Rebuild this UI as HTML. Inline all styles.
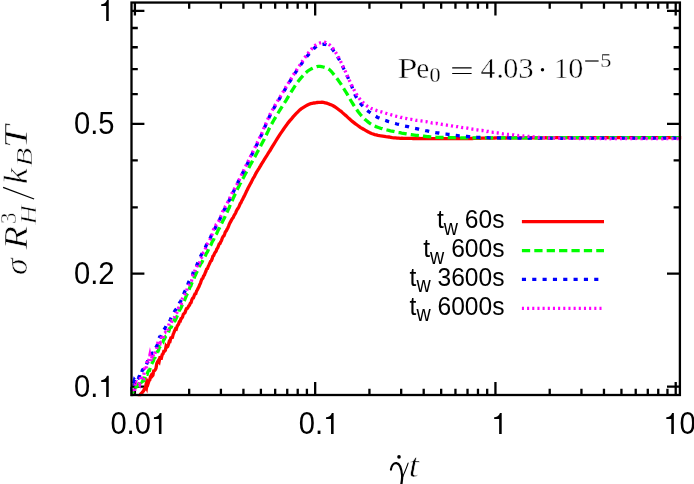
<!DOCTYPE html>
<html><head><meta charset="utf-8"><title>plot</title>
<style>html,body{margin:0;padding:0;background:#fff}svg{display:block;will-change:transform}</style></head>
<body>
<svg width="694" height="484" viewBox="0 0 694 484">
<rect width="694" height="484" fill="#fff"/>
<defs><clipPath id="c"><rect x="130.20" y="1.25" width="551.00" height="395.05"/></clipPath></defs>
<path d="M134.90,395.00v-12.90M134.90,2.55v12.90M189.17,395.00v-6.30M189.17,2.55v6.30M220.91,395.00v-6.30M220.91,2.55v6.30M243.43,395.00v-6.30M243.43,2.55v6.30M260.90,395.00v-6.30M260.90,2.55v6.30M275.18,395.00v-6.30M275.18,2.55v6.30M287.25,395.00v-6.30M287.25,2.55v6.30M297.70,395.00v-6.30M297.70,2.55v6.30M306.92,395.00v-6.30M306.92,2.55v6.30M315.17,395.00v-12.90M315.17,2.55v12.90M369.44,395.00v-6.30M369.44,2.55v6.30M401.18,395.00v-6.30M401.18,2.55v6.30M423.70,395.00v-6.30M423.70,2.55v6.30M441.17,395.00v-6.30M441.17,2.55v6.30M455.45,395.00v-6.30M455.45,2.55v6.30M467.52,395.00v-6.30M467.52,2.55v6.30M477.97,395.00v-6.30M477.97,2.55v6.30M487.19,395.00v-6.30M487.19,2.55v6.30M495.44,395.00v-12.90M495.44,2.55v12.90M549.71,395.00v-6.30M549.71,2.55v6.30M581.45,395.00v-6.30M581.45,2.55v6.30M603.97,395.00v-6.30M603.97,2.55v6.30M621.44,395.00v-6.30M621.44,2.55v6.30M635.72,395.00v-6.30M635.72,2.55v6.30M647.79,395.00v-6.30M647.79,2.55v6.30M658.24,395.00v-6.30M658.24,2.55v6.30M667.46,395.00v-6.30M667.46,2.55v6.30M675.71,395.00v-12.90M675.71,2.55v12.90M131.50,386.70h12.90M679.90,386.70h-12.90M131.50,273.54h12.90M679.90,273.54h-12.90M131.50,207.35h6.30M679.90,207.35h-6.30M131.50,160.39h6.30M679.90,160.39h-6.30M131.50,123.96h12.90M679.90,123.96h-12.90M131.50,94.19h6.30M679.90,94.19h-6.30M131.50,69.03h6.30M679.90,69.03h-6.30M131.50,47.23h6.30M679.90,47.23h-6.30M131.50,28.00h6.30M679.90,28.00h-6.30M131.50,10.80h12.90M679.90,10.80h-12.90" stroke="#000" stroke-width="2.30" fill="none"/>
<g clip-path="url(#c)" fill="none" stroke-width="3.3" stroke-linejoin="miter" stroke-miterlimit="6">
<path d="M136.5,404.1 L137.3,404.1 L138.1,398.5 L138.8,398.6 L139.6,396.2 L140.4,394.4 L141.2,393.5 L142.0,392.9 L142.7,391.7 L143.5,391.0 L144.3,389.1 L145.1,389.0 L145.9,385.3 L146.6,387.1 L147.4,381.8 L148.2,383.3 L149.0,380.7 L149.8,379.9 L150.5,376.5 L151.3,375.2 L152.1,376.2 L152.9,375.3 L153.7,370.9 L154.4,370.8 L155.2,369.9 L156.0,368.3 L156.8,363.5 L157.6,361.8 L158.3,360.7 L159.1,361.8 L159.9,357.5 L160.7,357.2 L161.5,357.6 L162.2,354.7 L163.0,353.9 L163.8,351.2 L164.6,351.1 L165.4,350.2 L166.1,346.1 L166.9,347.1 L167.7,346.5 L168.5,344.3 L169.3,341.4 L170.0,341.5 L170.8,338.0 L171.6,337.6 L172.4,337.4 L173.2,334.2 L173.9,332.7 L174.7,330.7 L175.5,328.9 L176.3,329.2 L177.1,326.4 L177.8,325.1 L178.6,324.1 L179.4,321.5 L180.2,321.3 L181.0,318.7 L181.7,318.3 L182.5,317.1 L183.3,314.3 L184.1,313.6 L184.9,312.9 L185.6,310.9 L186.4,308.7 L187.2,308.5 L188.0,307.4 L188.8,305.8 L189.5,305.3 L190.3,303.2 L191.1,302.5 L191.9,299.6 L192.7,298.2 L193.4,298.0 L194.2,295.7 L195.0,293.8 L195.8,293.6 L196.6,290.9 L197.3,290.0 L198.1,288.3 L198.9,286.8 L199.7,284.6 L200.5,283.1 L201.2,280.8 L202.0,278.9 L202.8,278.3 L203.6,275.9 L204.4,275.1 L205.1,273.0 L205.9,271.3 L206.7,268.9 L207.5,268.6 L208.3,266.3 L209.0,264.9 L209.8,263.1 L210.6,261.2 L211.4,260.6 L212.2,258.6 L212.9,256.2 L213.7,255.5 L214.5,253.5 L215.3,252.2 L216.1,251.2 L216.8,249.0 L217.6,248.1 L218.4,246.2 L219.2,244.0 L220.0,243.6 L220.7,241.8 L221.5,240.6 L222.3,238.1 L223.1,236.5 L223.9,235.9 L224.6,234.1 L225.4,231.8 L226.2,231.0 L227.0,229.4 L227.8,228.0 L228.5,226.3 L229.3,224.2 L230.1,222.6 L230.9,221.1 L231.7,219.6 L232.4,218.4 L233.2,217.5 L234.0,215.7 L234.8,214.3 L235.6,213.1 L236.3,211.1 L237.1,209.7 L237.9,208.5 L238.7,207.3 L239.5,205.5 L240.2,203.6 L241.0,202.6 L241.8,200.7 L242.6,199.5 L243.4,197.7 L244.1,196.4 L244.9,194.8 L245.7,193.1 L246.5,191.3 L247.3,189.7 L248.0,188.2 L248.8,186.7 L249.6,185.2 L250.4,183.7 L251.2,182.4 L251.9,180.9 L252.7,179.2 L253.5,177.8 L254.3,176.6 L255.1,175.1 L255.8,173.6 L256.6,172.2 L257.4,171.0 L258.2,169.5 L259.0,168.3 L259.7,167.1 L260.5,165.8 L261.3,164.4 L262.1,163.2 L262.9,162.0 L263.6,160.7 L264.4,159.4 L265.2,158.1 L266.0,156.9 L266.8,155.7 L267.5,154.5 L268.3,153.2 L269.1,151.9 L269.9,150.8 L270.7,149.4 L272.3,146.7 L273.9,144.1 L275.5,141.5 L277.1,138.9 L278.7,136.4 L280.3,133.9 L281.9,131.6 L283.5,129.3 L285.1,126.9 L286.7,124.8 L288.3,122.6 L289.9,120.6 L291.5,118.8 L293.1,116.9 L294.7,115.1 L296.3,113.4 L297.9,111.8 L299.5,110.2 L301.1,108.9 L302.7,107.9 L304.3,106.9 L305.9,105.9 L307.5,105.0 L309.1,104.2 L310.7,103.6 L312.3,103.3 L313.9,103.0 L315.5,102.8 L317.1,102.5 L318.7,102.4 L320.3,102.3 L321.9,102.2 L323.5,102.4 L325.1,102.8 L326.7,103.2 L328.3,103.8 L329.9,104.4 L331.5,104.9 L333.1,105.8 L334.7,106.7 L336.3,107.8 L337.9,109.0 L339.5,110.3 L341.1,111.4 L342.7,112.9 L344.3,114.3 L345.9,115.6 L347.5,117.1 L349.1,118.6 L350.7,120.0 L352.3,121.4 L353.9,122.6 L355.5,123.9 L357.1,125.0 L358.7,126.2 L360.3,127.3 L361.9,128.3 L363.5,129.2 L365.1,130.2 L366.7,131.1 L368.3,131.9 L369.9,132.8 L371.5,133.5 L373.1,134.0 L374.7,134.6 L376.3,134.9 L377.9,135.4 L379.5,135.6 L381.1,136.0 L382.7,136.2 L384.3,136.4 L385.9,136.7 L387.5,136.9 L389.1,137.0 L390.7,137.3 L392.3,137.6 L393.9,137.8 L395.5,137.8 L397.1,138.1 L398.7,138.1 L400.3,138.3 L401.9,138.2 L403.5,138.3 L405.1,138.3 L406.7,138.4 L408.3,138.3 L409.9,138.4 L411.5,138.4 L413.1,138.5 L414.7,138.5 L416.3,138.5 L417.9,138.5 L419.5,138.5 L421.1,138.6 L422.7,138.5 L424.3,138.6 L425.9,138.6 L427.5,138.6 L429.1,138.6 L430.7,138.6 L432.3,138.6 L433.9,138.7 L435.5,138.7 L437.1,138.6 L438.7,138.7 L440.3,138.7 L441.9,138.7 L443.5,138.7 L445.1,138.7 L446.7,138.7 L448.3,138.6 L449.9,138.6 L451.5,138.7 L453.1,138.7 L454.7,138.7 L456.3,138.6 L457.9,138.7 L459.5,138.6 L461.1,138.6 L462.7,138.6 L464.3,138.6 L465.9,138.5 L467.5,138.5 L469.1,138.5 L470.7,138.4 L472.3,138.5 L473.9,138.4 L475.5,138.4 L477.1,138.4 L478.7,138.3 L480.3,138.3 L481.9,138.2 L483.5,138.2 L485.1,138.1 L486.7,138.1 L488.3,138.1 L489.9,138.1 L491.5,138.1 L493.1,138.1 L494.7,138.0 L496.3,137.9 L497.9,137.9 L499.5,138.0 L501.1,138.0 L502.7,137.9 L504.3,137.9 L505.9,138.0 L507.5,137.9 L509.1,137.9 L510.7,137.8 L512.3,137.8 L513.9,137.9 L515.5,137.8 L517.1,137.8 L518.7,137.9 L520.3,137.8 L521.9,137.9 L523.5,137.8 L525.1,137.9 L526.7,137.8 L528.3,137.8 L529.9,137.8 L531.5,137.7 L533.1,137.8 L534.7,137.8 L536.3,137.8 L537.9,137.8 L539.5,137.8 L541.1,137.8 L542.7,137.8 L544.3,137.8 L545.9,137.7 L547.5,137.8 L549.1,137.8 L550.7,137.7 L552.3,137.8 L553.9,137.6 L555.5,137.7 L557.1,137.7 L558.7,137.7 L560.3,137.7 L561.9,137.7 L563.5,137.7 L565.1,137.7 L566.7,137.7 L568.3,137.7 L569.9,137.8 L571.5,137.7 L573.1,137.6 L574.7,137.8 L576.3,137.7 L577.9,137.8 L579.5,137.7 L581.1,137.8 L582.7,137.7 L584.3,137.7 L585.9,137.7 L587.5,137.7 L589.1,137.7 L590.7,137.7 L592.3,137.8 L593.9,137.7 L595.5,137.7 L597.1,137.8 L598.7,137.7 L600.3,137.7 L601.9,137.6 L603.5,137.7 L605.1,137.7 L606.7,137.7 L608.3,137.6 L609.9,137.6 L611.5,137.6 L613.1,137.7 L614.7,137.6 L616.3,137.6 L617.9,137.7 L619.5,137.6 L621.1,137.7 L622.7,137.7 L624.3,137.6 L625.9,137.7 L627.5,137.7 L629.1,137.7 L630.7,137.7 L632.3,137.7 L633.9,137.7 L635.5,137.8 L637.1,137.7 L638.7,137.6 L640.3,137.7 L641.9,137.7 L643.5,137.7 L645.1,137.6 L646.7,137.6 L648.3,137.6 L649.9,137.7 L651.5,137.6 L653.1,137.7 L654.7,137.7 L656.3,137.7 L657.9,137.7 L659.5,137.7 L661.1,137.7 L662.7,137.7 L664.3,137.7 L665.9,137.7 L667.5,137.6 L669.1,137.6 L670.7,137.6 L672.3,137.6 L673.9,137.6 L675.5,137.6 L677.1,137.6 L678.7,137.7 L680.3,137.6 L681.9,137.7" stroke="#ff0000"/>
<path d="M130.0,396.6 L130.8,393.6 L131.6,394.5 L132.3,392.8 L133.1,391.5 L133.9,390.0 L134.7,388.3 L135.5,388.8 L136.2,386.4 L137.0,385.3 L137.8,385.6 L138.6,384.4 L139.4,382.0 L140.1,382.6 L140.9,380.6 L141.7,382.1 L142.5,381.5 L143.3,379.5 L144.0,379.9 L144.8,376.3 L145.6,376.9 L146.4,374.3 L147.2,374.3 L147.9,371.8 L148.7,370.5 L149.5,370.4 L150.3,367.5 L151.1,365.3 L151.8,363.8 L152.6,362.3 L153.4,360.8 L154.2,358.1 L155.0,357.5 L155.7,355.2 L156.5,353.6 L157.3,351.6 L158.1,351.2 L158.9,349.1 L159.6,346.5 L160.4,346.5 L161.2,345.8 L162.0,343.2 L162.8,342.8 L163.5,340.1 L164.3,339.3 L165.1,337.5 L165.9,336.2 L166.7,335.6 L167.4,333.6 L168.2,333.2 L169.0,330.8 L169.8,328.3 L170.6,327.6 L171.3,327.2 L172.1,324.8 L172.9,322.6 L173.7,321.6 L174.5,319.8 L175.2,320.3 L176.0,318.7 L176.8,316.9 L177.6,315.0 L178.4,313.7 L179.1,311.0 L179.9,309.7 L180.7,308.5 L181.5,306.6 L182.3,304.4 L183.0,304.4 L183.8,301.7 L184.6,300.1 L185.4,298.1 L186.2,296.2 L186.9,294.6 L187.7,293.5 L188.5,291.5 L189.3,289.1 L190.1,286.7 L190.8,286.1 L191.6,283.5 L192.4,282.1 L193.2,279.5 L194.0,278.7 L194.7,276.5 L195.5,275.0 L196.3,273.2 L197.1,271.5 L197.9,270.1 L198.6,269.1 L199.4,266.4 L200.2,265.1 L201.0,263.3 L201.8,262.6 L202.5,261.0 L203.3,259.0 L204.1,257.8 L204.9,256.6 L205.7,255.1 L206.4,253.1 L207.2,252.3 L208.0,250.7 L208.8,248.5 L209.6,247.7 L210.3,246.0 L211.1,244.5 L211.9,242.7 L212.7,240.8 L213.5,239.9 L214.2,238.1 L215.0,236.3 L215.8,234.7 L216.6,233.7 L217.4,231.8 L218.1,230.3 L218.9,228.9 L219.7,227.5 L220.5,225.8 L221.3,223.9 L222.0,222.7 L222.8,221.1 L223.6,219.5 L224.4,218.1 L225.2,216.2 L225.9,214.5 L226.7,212.8 L227.5,211.2 L228.3,209.3 L229.1,208.0 L229.8,206.0 L230.6,204.2 L231.4,202.4 L232.2,200.7 L233.0,198.9 L233.7,197.2 L234.5,195.5 L235.3,193.8 L236.1,192.3 L236.9,190.7 L237.6,188.6 L238.4,187.1 L239.2,185.7 L240.0,183.9 L240.8,182.7 L241.5,180.9 L242.3,179.7 L243.1,178.2 L243.9,176.8 L244.7,175.1 L245.4,173.8 L246.2,172.5 L247.0,170.9 L247.8,169.5 L248.6,168.2 L249.3,166.9 L250.1,165.3 L250.9,163.9 L251.7,162.4 L252.5,161.1 L253.2,159.7 L254.0,158.2 L254.8,156.9 L255.6,155.4 L256.4,154.0 L257.1,152.5 L257.9,151.1 L258.7,149.7 L259.5,148.2 L260.3,146.7 L261.0,145.3 L261.8,143.8 L262.6,142.3 L263.4,140.8 L264.2,139.3 L264.9,137.7 L265.7,136.2 L266.5,134.5 L267.3,132.8 L268.1,131.1 L268.8,129.4 L269.6,127.9 L270.4,126.3 L272.0,123.4 L273.6,120.5 L275.2,117.8 L276.8,115.1 L278.4,112.5 L280.0,109.9 L281.6,107.4 L283.2,104.8 L284.8,102.3 L286.4,99.8 L288.0,97.1 L289.6,94.5 L291.2,91.9 L292.8,89.3 L294.4,86.8 L296.0,84.4 L297.6,82.2 L299.2,80.1 L300.8,78.2 L302.4,76.4 L304.0,74.6 L305.6,72.9 L307.2,71.5 L308.8,70.3 L310.4,69.4 L312.0,68.5 L313.6,67.7 L315.2,67.0 L316.8,66.5 L318.4,66.3 L320.0,66.4 L321.6,66.6 L323.2,67.0 L324.8,67.5 L326.4,68.1 L328.0,68.7 L329.6,69.7 L331.2,71.3 L332.8,73.2 L334.4,75.2 L336.0,77.2 L337.6,79.3 L339.2,81.6 L340.8,83.9 L342.4,86.4 L344.0,89.0 L345.6,91.5 L347.2,94.2 L348.8,97.0 L350.4,99.8 L352.0,102.5 L353.6,105.0 L355.2,107.4 L356.8,109.7 L358.4,111.9 L360.0,114.0 L361.6,115.9 L363.2,117.6 L364.8,119.2 L366.4,120.6 L368.0,121.9 L369.6,123.2 L371.2,124.2 L372.8,125.0 L374.4,125.9 L376.0,126.6 L377.6,127.2 L379.2,127.8 L380.8,128.3 L382.4,128.7 L384.0,129.3 L385.6,129.6 L387.2,130.0 L388.8,130.4 L390.4,130.8 L392.0,131.1 L393.6,131.4 L395.2,131.8 L396.8,132.1 L398.4,132.5 L400.0,132.7 L401.6,133.1 L403.2,133.3 L404.8,133.6 L406.4,133.9 L408.0,134.2 L409.6,134.5 L411.2,134.7 L412.8,134.9 L414.4,135.1 L416.0,135.4 L417.6,135.5 L419.2,135.7 L420.8,135.9 L422.4,136.1 L424.0,136.2 L425.6,136.4 L427.2,136.6 L428.8,136.7 L430.4,136.8 L432.0,136.9 L433.6,137.1 L435.2,137.2 L436.8,137.3 L438.4,137.3 L440.0,137.3 L441.6,137.5 L443.2,137.5 L444.8,137.5 L446.4,137.6 L448.0,137.7 L449.6,137.7 L451.2,137.7 L452.8,137.7 L454.4,137.7 L456.0,137.8 L457.6,137.8 L459.2,137.8 L460.8,137.9 L462.4,137.8 L464.0,137.9 L465.6,137.9 L467.2,137.9 L468.8,138.0 L470.4,137.9 L472.0,137.9 L473.6,137.9 L475.2,137.9 L476.8,137.9 L478.4,137.9 L480.0,137.9 L481.6,137.9 L483.2,137.9 L484.8,137.9 L486.4,137.9 L488.0,137.8 L489.6,137.9 L491.2,137.9 L492.8,137.9 L494.4,137.8 L496.0,137.8 L497.6,137.9 L499.2,137.9 L500.8,137.9 L502.4,137.8 L504.0,137.8 L505.6,137.8 L507.2,137.8 L508.8,137.8 L510.4,137.8 L512.0,137.8 L513.6,137.8 L515.2,137.8 L516.8,137.8 L518.4,137.9 L520.0,137.8 L521.6,137.8 L523.2,137.8 L524.8,137.8 L526.4,137.8 L528.0,137.7 L529.6,137.8 L531.2,137.7 L532.8,137.8 L534.4,137.8 L536.0,137.8 L537.6,137.8 L539.2,137.8 L540.8,137.8 L542.4,137.8 L544.0,137.7 L545.6,137.8 L547.2,137.8 L548.8,137.8 L550.4,137.8 L552.0,137.7 L553.6,137.7 L555.2,137.8 L556.8,137.7 L558.4,137.7 L560.0,137.7 L561.6,137.7 L563.2,137.7 L564.8,137.7 L566.4,137.7 L568.0,137.6 L569.6,137.7 L571.2,137.7 L572.8,137.7 L574.4,137.7 L576.0,137.6 L577.6,137.7 L579.2,137.7 L580.8,137.7 L582.4,137.7 L584.0,137.6 L585.6,137.7 L587.2,137.7 L588.8,137.7 L590.4,137.7 L592.0,137.6 L593.6,137.7 L595.2,137.7 L596.8,137.6 L598.4,137.6 L600.0,137.7 L601.6,137.6 L603.2,137.6 L604.8,137.7 L606.4,137.6 L608.0,137.7 L609.6,137.7 L611.2,137.6 L612.8,137.6 L614.4,137.7 L616.0,137.7 L617.6,137.6 L619.2,137.6 L620.8,137.7 L622.4,137.7 L624.0,137.7 L625.6,137.7 L627.2,137.7 L628.8,137.7 L630.4,137.7 L632.0,137.8 L633.6,137.8 L635.2,137.7 L636.8,137.7 L638.4,137.6 L640.0,137.7 L641.6,137.7 L643.2,137.7 L644.8,137.7 L646.4,137.7 L648.0,137.7 L649.6,137.7 L651.2,137.7 L652.8,137.7 L654.4,137.7 L656.0,137.7 L657.6,137.7 L659.2,137.7 L660.8,137.7 L662.4,137.6 L664.0,137.7 L665.6,137.7 L667.2,137.6 L668.8,137.7 L670.4,137.7 L672.0,137.7 L673.6,137.7 L675.2,137.7 L676.8,137.7 L678.4,137.7 L680.0,137.8 L681.6,137.7" stroke="#00ff00" stroke-dasharray="8.26 4.13"/>
<path d="M124.5,396.5 L125.5,396.2 L126.5,392.1 L127.5,392.2 L128.5,393.2 L129.5,391.9 L130.5,385.7 L131.5,384.9 L132.5,382.6 L133.5,383.5 L134.5,379.7 L135.5,380.8 L136.5,380.4 L137.5,376.9 L138.5,377.7 L139.5,375.8 L140.5,371.4 L141.5,372.8 L142.5,369.9 L143.5,369.2 L144.5,367.0 L145.5,367.5 L146.5,364.6 L147.5,361.6 L148.5,361.6 L149.5,360.8 L150.5,356.7 L151.5,354.4 L152.5,353.1 L153.5,353.3 L154.5,351.3 L155.5,347.9 L156.5,346.6 L157.5,344.3 L158.5,340.3 L159.5,337.2 L160.5,337.3 L161.5,335.0 L162.5,332.3 L163.5,330.0 L164.5,328.9 L165.5,327.3 L166.5,324.9 L167.5,323.3 L168.5,322.2 L169.5,321.8 L170.5,319.3 L171.5,316.7 L172.5,315.0 L173.5,313.9 L174.5,311.5 L175.5,309.8 L176.5,308.9 L177.5,305.9 L178.5,305.1 L179.5,302.8 L180.5,301.6 L181.5,299.6 L182.5,297.2 L183.5,294.9 L184.5,291.9 L185.5,290.3 L186.5,287.2 L187.5,285.4 L188.5,282.5 L189.5,280.5 L190.5,277.5 L191.5,275.7 L192.5,275.0 L193.5,271.4 L194.5,270.1 L195.5,267.9 L196.5,265.9 L197.5,263.4 L198.5,261.5 L199.5,258.4 L200.5,256.4 L201.5,254.5 L202.5,252.4 L203.5,250.3 L204.5,248.4 L205.5,247.1 L206.5,244.6 L207.5,243.7 L208.5,241.4 L209.5,239.2 L210.5,237.5 L211.5,234.9 L212.5,233.8 L213.5,231.7 L214.5,229.5 L215.5,227.3 L216.5,225.7 L217.5,223.7 L218.5,221.6 L219.5,219.9 L220.5,217.6 L221.5,215.4 L222.5,213.6 L223.5,211.2 L224.5,209.2 L225.5,207.8 L226.5,205.8 L227.5,204.0 L228.5,201.9 L229.5,199.6 L230.5,197.1 L231.5,195.5 L232.5,193.9 L233.5,191.7 L234.5,189.4 L235.5,187.4 L236.5,185.2 L237.5,183.1 L238.5,181.1 L239.5,179.7 L240.5,177.5 L241.5,175.2 L242.5,173.4 L243.5,171.3 L244.5,169.4 L245.5,167.7 L246.5,165.6 L247.5,163.5 L248.5,161.4 L249.5,159.6 L250.5,157.7 L251.5,155.4 L252.5,153.3 L253.5,151.3 L254.5,149.3 L255.5,147.5 L256.5,145.3 L257.5,143.3 L258.5,141.1 L259.5,139.0 L260.5,137.0 L261.5,134.8 L262.5,132.5 L263.5,130.1 L264.5,127.9 L265.5,125.4 L266.5,123.0 L267.5,120.6 L268.5,118.5 L269.5,116.5 L270.5,114.5 L272.1,111.4 L273.7,108.5 L275.3,105.6 L276.9,102.9 L278.5,100.3 L280.1,97.7 L281.7,95.0 L283.3,92.4 L284.9,89.7 L286.5,87.1 L288.1,84.4 L289.7,81.7 L291.3,79.1 L292.9,76.6 L294.5,74.1 L296.1,71.6 L297.7,69.2 L299.3,66.9 L300.9,64.6 L302.5,62.4 L304.1,60.1 L305.7,58.0 L307.3,56.0 L308.9,54.1 L310.5,52.3 L312.1,50.5 L313.7,48.7 L315.3,47.3 L316.9,46.1 L318.5,45.5 L320.1,44.9 L321.7,44.4 L323.3,44.2 L324.9,44.3 L326.5,44.8 L328.1,45.6 L329.7,46.6 L331.3,47.9 L332.9,49.8 L334.5,52.0 L336.1,54.4 L337.7,57.0 L339.3,59.8 L340.9,62.9 L342.5,66.1 L344.1,69.5 L345.7,72.7 L347.3,76.2 L348.9,79.6 L350.5,83.3 L352.1,87.1 L353.7,91.6 L355.3,95.4 L356.9,98.3 L358.5,100.7 L360.1,103.0 L361.7,104.9 L363.3,106.6 L364.9,108.3 L366.5,109.7 L368.1,111.1 L369.7,112.3 L371.3,113.5 L372.9,114.7 L374.5,115.6 L376.1,116.5 L377.7,117.4 L379.3,118.1 L380.9,118.8 L382.5,119.4 L384.1,120.0 L385.7,120.5 L387.3,121.1 L388.9,121.7 L390.5,122.1 L392.1,122.7 L393.7,123.1 L395.3,123.5 L396.9,124.0 L398.5,124.3 L400.1,124.7 L401.7,125.1 L403.3,125.5 L404.9,126.0 L406.5,126.3 L408.1,126.7 L409.7,127.2 L411.3,127.4 L412.9,127.8 L414.5,128.3 L416.1,128.6 L417.7,128.9 L419.3,129.4 L420.9,129.7 L422.5,130.0 L424.1,130.3 L425.7,130.7 L427.3,130.9 L428.9,131.3 L430.5,131.7 L432.1,131.8 L433.7,132.2 L435.3,132.6 L436.9,132.8 L438.5,133.0 L440.1,133.3 L441.7,133.5 L443.3,133.7 L444.9,134.0 L446.5,134.1 L448.1,134.4 L449.7,134.5 L451.3,134.9 L452.9,135.0 L454.5,135.2 L456.1,135.4 L457.7,135.6 L459.3,135.8 L460.9,135.8 L462.5,136.1 L464.1,136.3 L465.7,136.5 L467.3,136.5 L468.9,136.6 L470.5,136.9 L472.1,136.9 L473.7,137.0 L475.3,137.2 L476.9,137.3 L478.5,137.4 L480.1,137.5 L481.7,137.6 L483.3,137.6 L484.9,137.6 L486.5,137.7 L488.1,137.7 L489.7,137.8 L491.3,137.8 L492.9,137.7 L494.5,137.9 L496.1,137.9 L497.7,137.9 L499.3,137.9 L500.9,137.9 L502.5,138.0 L504.1,137.9 L505.7,138.0 L507.3,137.9 L508.9,137.9 L510.5,138.0 L512.1,138.0 L513.7,138.1 L515.3,138.1 L516.9,138.1 L518.5,138.0 L520.1,138.1 L521.7,138.1 L523.3,138.1 L524.9,138.1 L526.5,138.1 L528.1,138.2 L529.7,138.1 L531.3,138.2 L532.9,138.2 L534.5,138.1 L536.1,138.1 L537.7,138.1 L539.3,138.1 L540.9,138.1 L542.5,138.1 L544.1,138.1 L545.7,138.2 L547.3,138.2 L548.9,138.2 L550.5,138.2 L552.1,138.3 L553.7,138.2 L555.3,138.2 L556.9,138.2 L558.5,138.2 L560.1,138.2 L561.7,138.3 L563.3,138.3 L564.9,138.1 L566.5,138.2 L568.1,138.3 L569.7,138.1 L571.3,138.1 L572.9,138.2 L574.5,138.0 L576.1,138.1 L577.7,138.1 L579.3,138.1 L580.9,138.1 L582.5,138.1 L584.1,138.0 L585.7,138.1 L587.3,138.0 L588.9,138.0 L590.5,138.0 L592.1,138.1 L593.7,138.1 L595.3,138.0 L596.9,137.9 L598.5,138.0 L600.1,138.0 L601.7,138.1 L603.3,138.0 L604.9,138.0 L606.5,138.0 L608.1,138.0 L609.7,138.0 L611.3,138.2 L612.9,138.1 L614.5,138.1 L616.1,138.1 L617.7,138.2 L619.3,138.1 L620.9,138.2 L622.5,138.1 L624.1,138.1 L625.7,138.1 L627.3,138.1 L628.9,138.0 L630.5,138.2 L632.1,138.1 L633.7,138.1 L635.3,138.1 L636.9,138.2 L638.5,138.1 L640.1,138.1 L641.7,138.1 L643.3,138.1 L644.9,138.0 L646.5,138.1 L648.1,138.0 L649.7,138.1 L651.3,138.0 L652.9,138.0 L654.5,138.1 L656.1,138.0 L657.7,138.1 L659.3,138.0 L660.9,138.1 L662.5,138.1 L664.1,138.1 L665.7,138.0 L667.3,138.1 L668.9,138.1 L670.5,138.0 L672.1,138.1 L673.7,138.0 L675.3,138.1 L676.9,138.1 L678.5,138.1 L680.1,138.1 L681.7,138.1" stroke="#0000ff" stroke-dasharray="4.13 6.2"/>
<path d="M126.5,408.7 L127.8,401.1 L129.1,404.9 L130.4,399.0 L131.7,396.3 L133.0,387.6 L134.3,395.0 L135.6,380.7 L136.9,381.9 L138.2,382.2 L139.5,384.3 L140.8,375.4 L142.1,380.5 L143.4,379.1 L144.7,367.3 L146.0,369.0 L147.3,359.9 L148.6,361.0 L149.9,355.0 L151.2,361.4 L152.5,354.1 L153.8,356.6 L155.1,352.9 L156.4,351.4 L157.7,343.2 L159.0,340.2 L160.3,342.3 L161.6,336.5 L162.9,338.6 L164.2,333.8 L165.5,332.4 L166.8,333.1 L168.1,327.8 L169.4,322.6 L170.7,320.8 L172.0,321.2 L173.3,318.7 L174.6,317.1 L175.9,313.2 L177.2,312.2 L178.5,308.0 L179.8,306.7 L181.1,304.7 L182.4,298.6 L183.7,296.7 L185.0,294.4 L186.3,292.2 L187.6,287.0 L188.9,285.4 L190.2,282.6 L191.5,280.8 L192.8,275.4 L194.1,273.6 L195.4,268.9 L196.7,267.2 L198.0,263.2 L199.3,263.1 L200.6,258.5 L201.9,257.2 L203.2,253.0 L204.5,251.8 L205.8,247.4 L207.1,244.3 L208.4,242.2 L209.7,240.1 L211.0,237.3 L212.3,233.7 L213.6,229.4 L214.9,228.1 L216.2,224.5 L217.5,223.1 L218.8,221.0 L220.1,217.5 L221.4,215.2 L222.7,211.4 L224.0,210.0 L225.3,206.5 L226.6,205.0 L227.9,201.9 L229.2,200.1 L230.5,196.0 L231.8,193.5 L233.1,192.0 L234.4,189.0 L235.7,186.5 L237.0,184.3 L238.3,181.1 L239.6,178.9 L240.9,175.9 L242.2,173.8 L243.5,170.9 L244.8,167.7 L246.1,165.4 L247.4,163.2 L248.7,160.1 L250.0,157.3 L251.3,154.9 L252.6,152.2 L253.9,149.7 L255.2,146.9 L256.5,144.2 L257.8,141.5 L259.1,138.8 L260.4,136.2 L261.7,133.4 L263.0,130.4 L264.3,127.1 L265.6,124.2 L266.9,121.1 L268.2,118.3 L269.5,115.4 L270.8,112.8 L272.4,110.0 L274.0,107.0 L275.6,104.4 L277.2,101.7 L278.8,98.9 L280.4,96.4 L282.0,93.6 L283.6,91.1 L285.2,88.3 L286.8,85.7 L288.4,83.1 L290.0,80.5 L291.6,77.9 L293.2,75.2 L294.8,72.7 L296.4,70.3 L298.0,67.7 L299.6,65.5 L301.2,63.0 L302.8,60.6 L304.4,58.2 L306.0,55.9 L307.6,53.8 L309.2,51.8 L310.8,49.9 L312.4,48.1 L314.0,46.5 L315.6,45.0 L317.2,44.0 L318.8,43.4 L320.4,42.8 L322.0,42.4 L323.6,42.2 L325.2,42.4 L326.8,43.1 L328.4,44.1 L330.0,45.3 L331.6,46.9 L333.2,48.7 L334.8,51.0 L336.4,53.6 L338.0,56.2 L339.6,59.1 L341.2,62.6 L342.8,66.0 L344.4,69.3 L346.0,72.8 L347.6,76.4 L349.2,80.0 L350.8,83.5 L352.4,86.6 L354.0,89.7 L355.6,92.8 L357.2,95.4 L358.8,97.7 L360.4,99.9 L362.0,101.5 L363.6,103.0 L365.2,104.5 L366.8,105.8 L368.4,106.8 L370.0,107.7 L371.6,108.6 L373.2,109.1 L374.8,109.8 L376.4,110.4 L378.0,110.9 L379.6,111.4 L381.2,111.8 L382.8,112.3 L384.4,112.7 L386.0,113.3 L387.6,113.8 L389.2,114.2 L390.8,114.7 L392.4,115.1 L394.0,115.7 L395.6,116.1 L397.2,116.5 L398.8,116.8 L400.4,117.4 L402.0,117.5 L403.6,117.9 L405.2,118.4 L406.8,118.6 L408.4,119.1 L410.0,119.4 L411.6,119.4 L413.2,119.7 L414.8,119.9 L416.4,120.4 L418.0,120.5 L419.6,120.7 L421.2,120.9 L422.8,121.1 L424.4,121.5 L426.0,121.6 L427.6,122.0 L429.2,122.2 L430.8,122.6 L432.4,123.0 L434.0,123.0 L435.6,123.5 L437.2,123.4 L438.8,123.8 L440.4,124.1 L442.0,124.4 L443.6,124.6 L445.2,124.8 L446.8,125.1 L448.4,125.4 L450.0,125.6 L451.6,125.9 L453.2,126.2 L454.8,126.3 L456.4,126.6 L458.0,126.7 L459.6,127.0 L461.2,127.4 L462.8,127.6 L464.4,127.7 L466.0,127.9 L467.6,128.2 L469.2,128.5 L470.8,128.8 L472.4,129.1 L474.0,129.2 L475.6,129.8 L477.2,129.9 L478.8,130.2 L480.4,130.5 L482.0,130.5 L483.6,130.7 L485.2,131.0 L486.8,131.5 L488.4,131.4 L490.0,131.8 L491.6,132.2 L493.2,132.3 L494.8,132.3 L496.4,132.9 L498.0,133.0 L499.6,133.2 L501.2,133.5 L502.8,133.8 L504.4,133.8 L506.0,134.2 L507.6,134.4 L509.2,134.5 L510.8,134.7 L512.4,134.8 L514.0,134.9 L515.6,135.2 L517.2,135.3 L518.8,135.6 L520.4,135.5 L522.0,135.7 L523.6,136.0 L525.2,135.9 L526.8,136.2 L528.4,136.4 L530.0,136.4 L531.6,136.6 L533.2,136.8 L534.8,136.9 L536.4,137.2 L538.0,137.4 L539.6,137.5 L541.2,137.5 L542.8,137.5 L544.4,137.8 L546.0,137.8 L547.6,137.9 L549.2,138.1 L550.8,138.3 L552.4,138.3 L554.0,138.0 L555.6,138.4 L557.2,138.3 L558.8,138.2 L560.4,138.4 L562.0,138.3 L563.6,138.3 L565.2,138.4 L566.8,138.2 L568.4,138.3 L570.0,138.4 L571.6,138.3 L573.2,138.5 L574.8,138.4 L576.4,138.4 L578.0,138.6 L579.6,138.6 L581.2,138.4 L582.8,138.4 L584.4,138.5 L586.0,138.4 L587.6,138.7 L589.2,138.5 L590.8,138.4 L592.4,138.7 L594.0,138.6 L595.6,138.5 L597.2,138.7 L598.8,138.8 L600.4,138.5 L602.0,138.7 L603.6,138.6 L605.2,138.6 L606.8,138.5 L608.4,138.6 L610.0,138.8 L611.6,138.5 L613.2,138.4 L614.8,138.7 L616.4,138.7 L618.0,138.5 L619.6,138.7 L621.2,138.7 L622.8,138.7 L624.4,138.7 L626.0,138.5 L627.6,138.8 L629.2,138.6 L630.8,138.5 L632.4,138.6 L634.0,138.7 L635.6,138.5 L637.2,138.4 L638.8,138.5 L640.4,138.5 L642.0,138.7 L643.6,138.8 L645.2,138.7 L646.8,138.6 L648.4,138.8 L650.0,138.5 L651.6,138.5 L653.2,138.7 L654.8,138.6 L656.4,138.6 L658.0,138.5 L659.6,138.6 L661.2,138.7 L662.8,138.8 L664.4,138.4 L666.0,138.6 L667.6,138.6 L669.2,138.6 L670.8,138.7 L672.4,138.6 L674.0,138.6 L675.6,138.6 L677.2,138.7 L678.8,138.7 L680.4,138.5 L682.0,138.7" stroke="#ff00ff" stroke-dasharray="2.07 3.1"/>
</g>
<rect x="131.50" y="2.55" width="548.40" height="392.45" fill="none" stroke="#000" stroke-width="2.30"/>
<g font-family="Liberation Sans, sans-serif" fill="#000">
<path transform="translate(98.26,21.00) scale(0.02920,0.02993)" d="M359,0L271,0L271,-501L101,-501L101,-560C190,-562 262,-600 300,-703L359,-703Z"/>
<text transform="translate(73.91,134.16) scale(1,1.075)" font-size="29.20">0.5</text>
<text transform="translate(73.91,283.74) scale(1,1.075)" font-size="29.20">0.2</text>
<text transform="translate(73.91,396.90) scale(1,1.075)" font-size="29.20">0.</text><path transform="translate(98.26,396.90) scale(0.02920,0.02993)" d="M359,0L271,0L271,-501L101,-501L101,-560C190,-562 262,-600 300,-703L359,-703Z"/>
<text transform="translate(110.39,434.00) scale(1,1.075)" font-size="29.20">0.0</text><path transform="translate(150.98,434.00) scale(0.02920,0.02993)" d="M359,0L271,0L271,-501L101,-501L101,-560C190,-562 262,-600 300,-703L359,-703Z"/>
<text transform="translate(298.78,434.00) scale(1,1.075)" font-size="29.20">0.</text><path transform="translate(323.13,434.00) scale(0.02920,0.02993)" d="M359,0L271,0L271,-501L101,-501L101,-560C190,-562 262,-600 300,-703L359,-703Z"/>
<path transform="translate(491.22,434.00) scale(0.02920,0.02993)" d="M359,0L271,0L271,-501L101,-501L101,-560C190,-562 262,-600 300,-703L359,-703Z"/>
<path transform="translate(663.37,434.00) scale(0.02920,0.02993)" d="M359,0L271,0L271,-501L101,-501L101,-560C190,-562 262,-600 300,-703L359,-703Z"/><text transform="translate(679.61,434.00) scale(1,1.075)" font-size="29.20">0</text>
</g>
<g font-family="Liberation Sans, sans-serif" fill="#000">
<text transform="translate(464.84,228.00) scale(1,1.075)" font-size="24.60">60s</text>
<text transform="translate(443.80,234.60) scale(1,1.075)" font-size="19.68">w</text>
<text transform="translate(436.96,228.00) scale(1,1.075)" font-size="24.60">t</text>
<text transform="translate(451.17,256.90) scale(1,1.075)" font-size="24.60">600s</text>
<text transform="translate(430.12,263.50) scale(1,1.075)" font-size="19.68">w</text>
<text transform="translate(423.28,256.90) scale(1,1.075)" font-size="24.60">t</text>
<text transform="translate(437.49,285.70) scale(1,1.075)" font-size="24.60">3600s</text>
<text transform="translate(416.44,292.30) scale(1,1.075)" font-size="19.68">w</text>
<text transform="translate(409.60,285.70) scale(1,1.075)" font-size="24.60">t</text>
<text transform="translate(437.49,314.60) scale(1,1.075)" font-size="24.60">6000s</text>
<text transform="translate(416.44,321.20) scale(1,1.075)" font-size="19.68">w</text>
<text transform="translate(409.60,314.60) scale(1,1.075)" font-size="24.60">t</text>
</g>
<g fill="none" stroke-width="3.3">
<path d="M521.9,221.70H604" stroke="#ff0000"/>
<path d="M521.9,250.60H604" stroke="#00ff00" stroke-dasharray="8.26 4.13"/>
<path d="M521.9,279.40H604" stroke="#0000ff" stroke-dasharray="4.13 6.2"/>
<path d="M521.9,308.30H604" stroke="#ff00ff" stroke-dasharray="2.07 3.1"/>
</g>
<g font-family="Liberation Serif, serif" fill="#000" stroke="#fff" stroke-width="0.45">
<text transform="translate(397.20,77.80) scale(1.280,1)" font-size="28.50">P</text>
<text transform="translate(416.30,77.80) scale(1.030,1)" font-size="28.50">e</text>
<text transform="translate(429.60,82.00) scale(1.080,1)" font-size="20.50" stroke-width="0.25">0</text>
<path d="M452.2,67.8h19.4M452.2,73.5h19.4" stroke="#000" stroke-width="1.2"/>
<text transform="translate(480.60,77.80) scale(1.040,1)" font-size="28.50">4</text>
<text transform="translate(496.30,77.80) scale(1.100,1)" font-size="28.50">.</text>
<text transform="translate(503.30,77.80) scale(1.060,1)" font-size="28.50">0</text>
<text transform="translate(518.30,77.80) scale(1.080,1)" font-size="28.50">3</text>
<circle cx="542.5" cy="69.8" r="1.7" stroke="none"/>
<text transform="translate(553.80,77.80) scale(1.050,1)" font-size="28.50">1</text>
<text transform="translate(568.20,77.80) scale(1.060,1)" font-size="28.50">0</text>
<path d="M585.2,61h13.4" stroke="#000" stroke-width="1.2"/>
<text transform="translate(600.30,67.00) scale(1.140,1)" font-size="19.50" stroke-width="0.25">5</text>
</g>
<g fill="none" stroke="#000" stroke-linecap="round">
<path d="M390.9,469.6C391.4,465.2 393.8,462.9 396.4,463.1C399.6,463.4 401.6,468.5 402.2,476.2" stroke-width="2.1"/>
<path d="M402.2,476C402.3,480 401.3,484 400.6,489" stroke-width="2.3"/>
<path d="M408.1,463.1C406.6,468 404.2,473.2 402.3,477.6" stroke-width="1.1"/>
</g>
<circle cx="399" cy="456.9" r="1.8"/>
<g font-family="Liberation Serif, serif" fill="#000" stroke="#fff" stroke-width="0.55">
<text transform="translate(408.80,477.00) scale(1.100,1)" font-size="33.50" font-style="italic">t</text>
</g>
<g font-family="Liberation Serif, serif" fill="#000" stroke="#fff" stroke-width="0.55">
<text transform="translate(27.30,275.00) rotate(-90) scale(1.040,1)" font-size="32.50" font-style="italic">σ</text>
<text transform="translate(27.30,249.20) rotate(-90) scale(1.120,1)" font-size="34.00" font-style="italic">R</text>
<text transform="translate(15.80,224.00) rotate(-90) scale(1.000,1)" font-size="23.00">3</text>
<text transform="translate(36.00,224.30) rotate(-90) scale(1.100,1)" font-size="24.00" font-style="italic">H</text>
<path d="M3.1,187.3L34.1,199" stroke="#000" stroke-width="1.3" fill="none"/>
<text transform="translate(27.30,184.00) rotate(-90) scale(1.050,1)" font-size="34.00" font-style="italic">k</text>
<text transform="translate(32.20,166.70) rotate(-90) scale(1.300,1)" font-size="24.00" font-style="italic">B</text>
<text transform="translate(27.30,148.00) rotate(-90) scale(1.200,1)" font-size="34.00" font-style="italic">T</text>
</g>
</svg>
</body></html>
